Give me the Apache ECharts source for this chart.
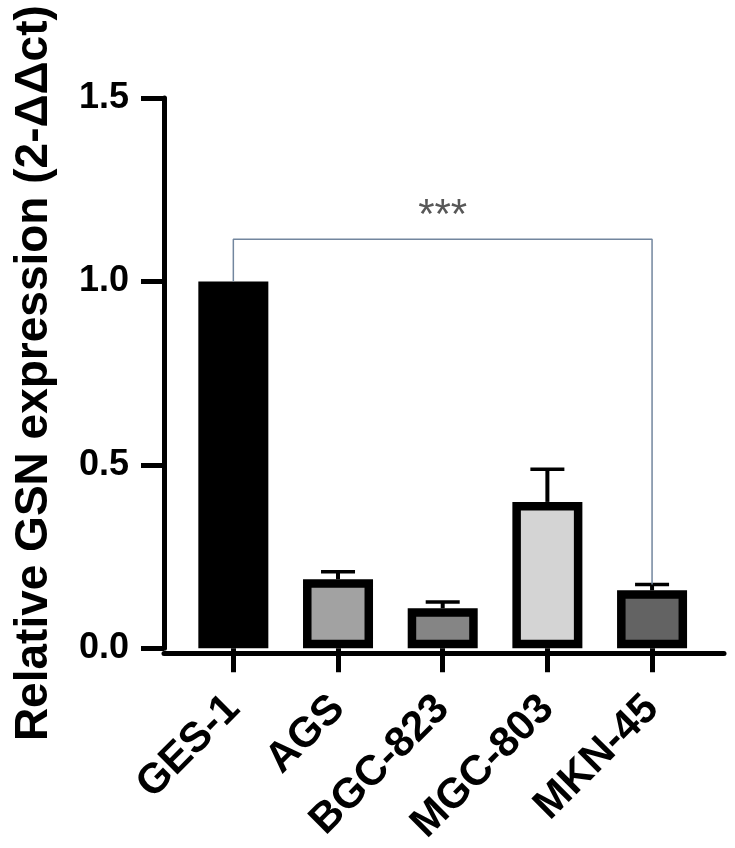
<!DOCTYPE html>
<html><head><meta charset="utf-8">
<script src="https://cdn.jsdelivr.net/npm/echarts@6/dist/echarts.min.js"></script>
<style>html,body{margin:0;padding:0;background:#fff}#c{width:735px;height:848px}</style>
</head><body><div id="c"></div>
<script>
const categories = ['GES-1', 'AGS', 'BGC-823', 'MGC-803', 'MKN-45'];
const means = [1.0, 0.188, 0.109, 0.399, 0.158];
const errTop = [1.0, 0.209, 0.126, 0.488, 0.174];
const fills = ['#000000', '#a2a2a2', '#858585', '#d4d4d4', '#636363'];
const yTicks = [0, 0.5, 1.0, 1.5];
const bracketY = 1.115;
const sigLabel = '***';
const sigY = 1.178;
const yTitle = 'Relative GSN expression (2-ΔΔct)';

const FONT = "'Liberation Sans', Arial, sans-serif";
const chart = echarts.init(document.getElementById('c'), null, {renderer: 'canvas'});

const errData = categories.map((c, i) => [i, means[i], errTop[i]]).filter(d => d[2] > d[1]);
const bracket = [[0, means[0]], [0, bracketY], [4, bracketY], [4, errTop[4]]];

chart.setOption({
  animation: false,
  backgroundColor: '#fff',
  grid: [
    {left: 181, right: 30.6, top: 98, bottom: 194.5},
    {left: 164, right: 11, top: 98, bottom: 194.5}
  ],
  xAxis: [
    {
      type: 'category', gridIndex: 0, data: categories,
      axisLine: {show: false},
      axisTick: {show: true, alignWithLabel: true, length: 24, lineStyle: {color: '#000', width: 5}},
      axisLabel: {rotate: 45, margin: 54, color: '#000', fontFamily: FONT, fontSize: 42, fontWeight: 'bold', interval: 0}
    },
    {
      type: 'value', gridIndex: 1, min: 0, max: 1,
      axisLine: {show: true, onZero: false, lineStyle: {color: '#000', width: 5}},
      axisTick: {show: false}, axisLabel: {show: false}, splitLine: {show: false}
    }
  ],
  yAxis: [
    {
      type: 'value', gridIndex: 0, min: yTicks[0], max: yTicks[yTicks.length - 1], interval: 0.5,
      offset: 17,
      name: yTitle, nameLocation: 'middle', nameGap: 107,
      nameTextStyle: {fontFamily: FONT, fontSize: 46, fontWeight: 'bold', color: '#000'},
      axisLine: {show: true, lineStyle: {color: '#000', width: 5}},
      axisTick: {show: true, length: 23, lineStyle: {color: '#000', width: 5}},
      axisLabel: {margin: 35, color: '#000', fontFamily: FONT, fontSize: 36, fontWeight: 'bold', formatter: v => v.toFixed(1)},
      splitLine: {show: false}
    },
    {type: 'value', gridIndex: 1, show: false, min: 0, max: 1}
  ],
  series: [
    {
      type: 'custom', xAxisIndex: 0, yAxisIndex: 0, z: 1,
      data: errData,
      renderItem(params, api) {
        const i = api.value(0);
        const lo = api.coord([i, api.value(1)]);
        const hi = api.coord([i, api.value(2)]);
        const hw = 17;
        return {type: 'group', children: [
          {type: 'line', shape: {x1: lo[0], y1: lo[1], x2: hi[0], y2: hi[1]}, style: {stroke: '#000', lineWidth: 4}},
          {type: 'line', shape: {x1: hi[0] - hw, y1: hi[1], x2: hi[0] + hw, y2: hi[1]}, style: {stroke: '#000', lineWidth: 3.5}}
        ]};
      }
    },
    {
      type: 'bar', xAxisIndex: 0, yAxisIndex: 0, z: 2, barWidth: 70,
      data: means.map((v, i) => ({value: v, itemStyle: {color: fills[i], borderColor: '#000', borderWidth: 8.5}}))
    },
    {
      type: 'line', xAxisIndex: 0, yAxisIndex: 0, z: 3, symbol: 'none',
      data: bracket,
      lineStyle: {color: '#72869e', width: 1.5}
    },
    {
      type: 'scatter', xAxisIndex: 0, yAxisIndex: 0, symbolSize: 0,
      data: [[2, sigY]],
      label: {show: true, position: 'inside', formatter: sigLabel, fontFamily: FONT, fontSize: 42, color: '#2e2e2e'}
    }
  ]
});
</script></body></html>
